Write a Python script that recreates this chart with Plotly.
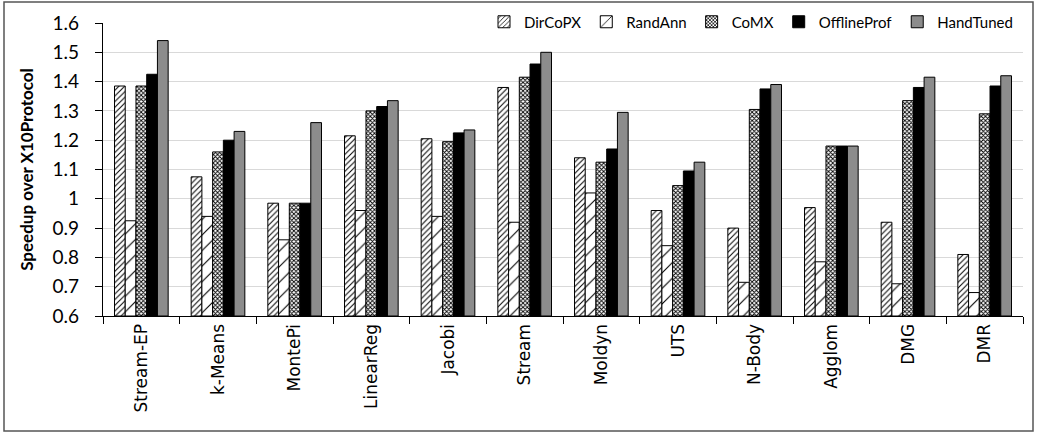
import plotly.graph_objects as go

categories = ["Stream-EP", "k-Means", "MontePi", "LinearReg", "Jacobi", "Stream",
              "Moldyn", "UTS", "N-Body", "Agglom", "DMG", "DMR"]
dircopx = [1.385, 1.075, 0.985, 1.215, 1.205, 1.38, 1.14, 0.96, 0.90, 0.97, 0.92, 0.81]
randann = [0.925, 0.94, 0.86, 0.96, 0.94, 0.92, 1.02, 0.84, 0.715, 0.785, 0.71, 0.68]
comx = [1.385, 1.16, 0.985, 1.30, 1.195, 1.415, 1.125, 1.045, 1.305, 1.18, 1.335, 1.29]
offlineprof = [1.425, 1.20, 0.985, 1.315, 1.225, 1.46, 1.17, 1.095, 1.375, 1.18, 1.38, 1.385]
handtuned = [1.54, 1.23, 1.26, 1.335, 1.235, 1.50, 1.295, 1.125, 1.39, 1.18, 1.415, 1.42]
y_ticks = [0.6, 0.7, 0.8, 0.9, 1.0, 1.1, 1.2, 1.3, 1.4, 1.5, 1.6]
y_tick_labels = ["0.6", "0.7", "0.8", "0.9", "1", "1.1", "1.2", "1.3", "1.4", "1.5", "1.6"]

series = [
    ("DirCoPX", dircopx, dict(fillmode="replace", shape="/", size=4, solidity=0.25, fgcolor="black", bgcolor="white")),
    ("RandAnn", randann, dict(fillmode="replace", shape="/", size=11, solidity=0.1, fgcolor="black", bgcolor="white")),
    ("CoMX", comx, dict(fillmode="replace", shape="x", size=3, solidity=0.5, fgcolor="black", bgcolor="white")),
    ("OfflineProf", offlineprof, None),
    ("HandTuned", handtuned, None),
]
colors = {"OfflineProf": "black", "HandTuned": "#8c8c8c"}

fig = go.Figure()
for name, vals, pat in series:
    marker = dict(line=dict(color="black", width=1))
    if pat:
        marker["color"] = "white"
        marker["pattern"] = pat
    else:
        marker["color"] = colors[name]
    fig.add_trace(go.Bar(name=name, x=categories, y=[v - 0.6 for v in vals], base=0.6,
                         marker=marker, hovertext=[str(v) for v in vals]))

W, H = 1037, 435
L, R, T, B = 103, 14, 23, 119
fig.update_layout(
    width=W, height=H,
    barmode="group", bargap=0.3, bargroupgap=0,
    plot_bgcolor="white", paper_bgcolor="white",
    margin=dict(l=L, r=R, t=T, b=B, autoexpand=False),
    font=dict(family="Lato, Noto Sans, sans-serif", color="black"),
    legend=dict(orientation="h", xref="container", yref="container",
                x=1018 / W, xanchor="right", y=1 - 22 / H, yanchor="middle",
                font=dict(size=15, family="Lato, Noto Sans, sans-serif"),
                bgcolor="rgba(255,255,255,0)", itemwidth=30, tracegroupgap=0),
    xaxis=dict(tickangle=-90, tickson="boundaries", ticks="outside", ticklen=7,
               tickcolor="black", showline=True, linecolor="black", linewidth=1.2,
               tickfont=dict(family="DejaVu Sans", size=17), showgrid=False,
               automargin=False),
    yaxis=dict(range=[0.6, 1.6], tickvals=y_ticks, ticktext=y_tick_labels,
               ticks="outside", ticklen=7, tickcolor="black", showline=True,
               linecolor="black", linewidth=1.2, gridcolor="#d9d9d9",
               tickfont=dict(size=19, family="Lato, Noto Sans, sans-serif"),
               ticklabelstandoff=12, automargin=False,
               title=dict(text="<b>Speedup over X10Protocol</b>", font=dict(size=17), standoff=14),
               zeroline=False),
    shapes=[dict(type="rect", xref="paper", yref="paper",
                 x0=(4 - L) / (W - L - R), x1=(1033 - L) / (W - L - R),
                 y0=(316 - 431) / (H - T - B), y1=(316 - 2) / (H - T - B),
                 line=dict(color="#555555", width=1.5), fillcolor="rgba(0,0,0,0)", layer="below")],
)

fig.write_html("out.html", config={"displayModeBar": False},
               post_script="document.body.style.margin='0px';document.body.style.overflow='hidden';")
